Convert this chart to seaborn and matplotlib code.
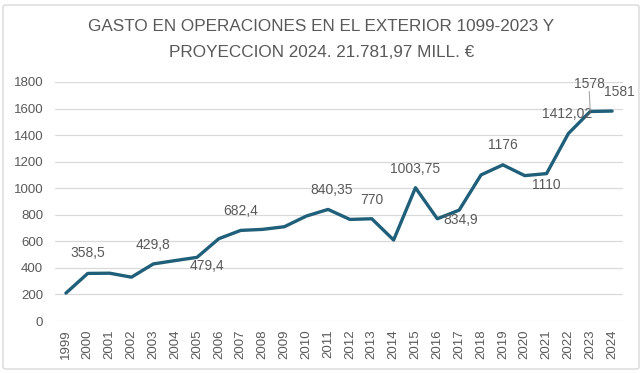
import numpy as np
import pandas as pd
import seaborn as sns
from matplotlib import pyplot as plt
from matplotlib.patches import FancyBboxPatch

years = list(range(1999, 2025))
gasto = [210, 358.5, 360, 330, 429.8, 455, 479.4, 620, 682.4, 690, 710, 790,
         840.35, 765, 770, 610, 1003.75, 770, 834.9, 1100, 1176, 1095, 1110,
         1412.02, 1578, 1581]

# etiquetas de datos: año -> (texto, desplazamiento en px)
label_years = [2000, 2003, 2005, 2007, 2011, 2013, 2015, 2017, 2019, 2021, 2022, 2023, 2024]
label_texts = ['358,5', '429,8', '479,4', '682,4', '840,35', '770', '1003,75',
               '834,9', '1176', '1110', '1412,02', '1578', '1581']
label_offsets = [(0, 20), (0, 19), (10, -9), (0, 19), (4, 19), (0, 19), (0, 19),
                 (2, -10), (0, 20), (0, -11), (-1, 20), (-1, 27), (7, 19)]

title = 'GASTO EN OPERACIONES EN EL EXTERIOR 1099-2023 Y\nPROYECCION 2024. 21.781,97 MILL. €'

sns.set_style('white')
plt.rcParams['font.family'] = ['Liberation Sans', 'DejaVu Sans']
gray = '#595959'
line_color = '#1f5f7a'

df = pd.DataFrame({'year': years, 'gasto': gasto})

fig = plt.figure(figsize=(6.43, 3.73), dpi=100)
ax = fig.add_axes([55 / 643, 1 - 321 / 373, (623 - 55) / 643, (321 - 82) / 373])

sns.lineplot(data=df, x='year', y='gasto', ax=ax, color=line_color, linewidth=2.4)

ax.set_ylim(0, 1800)
ax.set_xlim(1998.5, 2024.5)
ax.set_yticks(np.arange(0, 1801, 200))
ax.set_xticks(years)
ax.set_xticklabels([str(y) for y in years], rotation=90)
ax.tick_params(axis='both', colors=gray, labelsize=9.5, length=0, pad=6)
ax.tick_params(axis='y', pad=8.5)
ax.grid(axis='y', color='#d9d9d9', linewidth=0.9)
ax.set_axisbelow(True)
for s in ax.spines.values():
    s.set_visible(False)
ax.set_xlabel('')
ax.set_ylabel('')

for yr, txt, (dx, dy) in zip(label_years, label_texts, label_offsets):
    val = gasto[years.index(yr)]
    ax.annotate(txt, (yr, val), xytext=(dx, dy), textcoords='offset pixels',
                ha='center', va='center', fontsize=10, color=gray)

# linea guia de la etiqueta 2023
ax.annotate('', (2023, 1578), xytext=(-1, 20), textcoords='offset pixels',
            arrowprops=dict(arrowstyle='-', color='#a6a6a6', lw=0.8, shrinkA=0, shrinkB=1))

fig.text(0.5, 1 - 39.5 / 373, title, ha='center', va='center', fontsize=12.3,
         color=gray, linespacing=1.9)

border = FancyBboxPatch((3 / 643, 4 / 373), 636 / 643, 364 / 373,
                        boxstyle='round,pad=0,rounding_size=0.005',
                        transform=fig.transFigure, fill=False,
                        edgecolor='#d9d9d9', linewidth=1.0)
fig.patches.append(border)

fig.savefig('out.png', dpi=100)
